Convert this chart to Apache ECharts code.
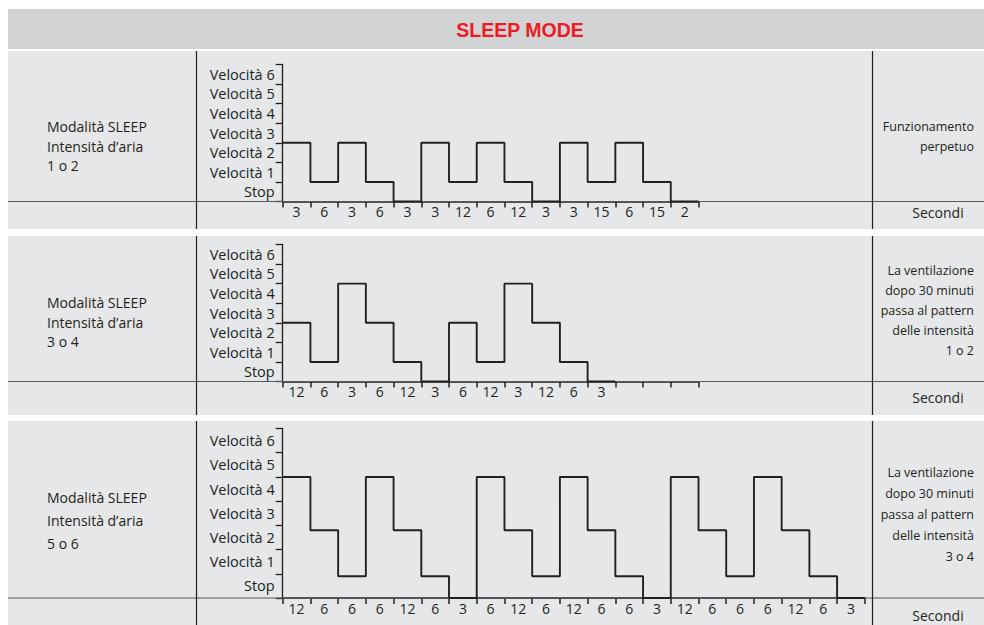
<!DOCTYPE html>
<html>
<head>
<meta charset="utf-8">
<script src="https://cdn.jsdelivr.net/npm/echarts@6/dist/echarts.min.js"></script>
<style>
  html, body { margin: 0; padding: 0; background: #fff; }
  #chart { width: 984px; height: 625px; }
</style>
</head>
<body>
<div id="chart"></div>
<script>
// speed levels on the y axis (one band per level)
const levelNames = ["Stop", "Velocità 1", "Velocità 2", "Velocità 3", "Velocità 4", "Velocità 5", "Velocità 6"];

// SLEEP intensity 1 o 2
const secondsLow = ["3", "6", "3", "6", "3", "3", "12", "6", "12", "3", "3", "15", "6", "15", "2"];
const speedLow = [3, 1, 3, 1, 0, 3, 1, 3, 1, 0, 3, 1, 3, 1, 0];

// SLEEP intensity 3 o 4 (last three slots are empty)
const secondsMid = ["12", "6", "3", "6", "12", "3", "6", "12", "3", "12", "6", "3", "", "", ""];
const speedMid = [3, 1, 5, 3, 1, 0, 3, 1, 5, 3, 1, 0];

// SLEEP intensity 5 o 6
const secondsHigh = ["12", "6", "6", "6", "12", "6", "3", "6", "12", "6", "12", "6", "6", "3", "12", "6", "6", "6", "12", "6", "3"];
const speedHigh = [5, 2.8, 0.9, 5, 2.8, 0.9, 0, 5, 2.8, 0.9, 5, 2.8, 0.9, 0, 5, 2.8, 0.9, 5, 2.8, 0.9, 0];

const modeTexts = [
  ["Modalità SLEEP", "Intensità d’aria", "1 o 2"],
  ["Modalità SLEEP", "Intensità d’aria", "3 o 4"],
  ["Modalità SLEEP", "Intensità d’aria", "5 o 6"],
];
const noteTexts = [
  ["Funzionamento", "perpetuo"],
  ["La ventilazione", "dopo 30 minuti", "passa al pattern", "delle intensità", "1 o 2"],
  ["La ventilazione", "dopo 30 minuti", "passa al pattern", "delle intensità", "3 o 4"],
];
const unitText = "Secondi";
const titleText = "SLEEP MODE";

(() => {
  const INK = "#231f20";
  const RULE = "#58595b";
  const FONT = '"Open Sans", "Noto Sans", sans-serif';
  const SLOT = 27.72;
  const AXIS_X = 282.7;

  // layout of the three table rows
  const rows = [
    { seconds: secondsLow, speed: speedLow, panelTop: 51, panelBottom: 229, gridTop: 64.5, gridH: 137, modeY: 146, modeLH: 19.5, noteY: 136, noteLH: 20, unitY: 212 },
    { seconds: secondsMid, speed: speedMid, panelTop: 236, panelBottom: 415, gridTop: 244.5, gridH: 137, modeY: 322, modeLH: 19.5, noteY: 310, noteLH: 20, unitY: 397 },
    { seconds: secondsHigh, speed: speedHigh, panelTop: 421, panelBottom: 625, gridTop: 428.5, gridH: 169.5, modeY: 520, modeLH: 23, noteY: 514, noteLH: 21, unitY: 615 },
  ];

  const grid = [], xAxis = [], yAxis = [], series = [];
  const graphic = [
    { type: "rect", z: -10, shape: { x: 8, y: 9, width: 976, height: 40 }, style: { fill: "#d1d3d4" } },
    { type: "text", z: 5, style: { text: titleText, x: 520, y: 30, align: "center", verticalAlign: "middle", font: 'bold 19.5px "Liberation Sans", Arial, sans-serif', fill: "#ed1c24" } },
  ];

  rows.forEach((r, g) => {
    const axisY = r.gridTop + r.gridH;
    grid.push({ left: AXIS_X, top: r.gridTop, width: SLOT * r.seconds.length, height: r.gridH, containLabel: false, outerBoundsMode: "none" });

    xAxis.push({
      type: "category", gridIndex: g, position: "bottom", data: r.seconds, boundaryGap: true,
      axisLine: { show: true, onZero: false, lineStyle: { color: INK, width: 1.6 } },
      axisTick: { show: true, inside: false, length: 6, interval: 0, lineStyle: { color: INK, width: 1.5 } },
      axisLabel: { interval: 0, margin: 3, color: INK, fontFamily: FONT, fontSize: 14 },
      splitLine: { show: false },
    });
    xAxis.push({ type: "value", gridIndex: g, position: "bottom", min: 0, max: r.seconds.length, show: false });

    yAxis.push({
      type: "value", gridIndex: g, position: "left", min: 0, max: 7, interval: 1,
      axisLine: { show: true, onZero: false, lineStyle: { color: INK, width: 1.3 } },
      axisTick: { show: true, inside: false, length: 7, lineStyle: { color: INK, width: 1.3 } },
      axisLabel: { show: false },
      splitLine: { show: false },
    });
    yAxis.push({
      type: "category", gridIndex: g, position: "left", data: levelNames, boundaryGap: true,
      axisLine: { show: false }, axisTick: { show: false },
      axisLabel: { interval: 0, margin: 8, color: INK, fontFamily: FONT, fontSize: 14.5 },
      splitLine: { show: false },
    });

    const pts = r.speed.map((v, i) => [i, v]);
    pts.push([r.speed.length, r.speed[r.speed.length - 1]]);
    series.push({
      type: "line", xAxisIndex: 2 * g + 1, yAxisIndex: 2 * g, step: "end", data: pts,
      symbol: "none", silent: true, z: 3,
      lineStyle: { color: INK, width: 1.9 },
    });

    // table cells around the chart
    graphic.push(
      { type: "rect", z: -10, shape: { x: 8, y: r.panelTop, width: 976, height: r.panelBottom - r.panelTop }, style: { fill: "#e6e7e8" } },
      { type: "line", z: 1, shape: { x1: 8, y1: axisY, x2: 984, y2: axisY }, style: { stroke: RULE, lineWidth: 1 } },
      { type: "line", z: 1, shape: { x1: 196.5, y1: r.panelTop, x2: 196.5, y2: r.panelBottom }, style: { stroke: INK, lineWidth: 1.2 } },
      { type: "line", z: 1, shape: { x1: 872.5, y1: r.panelTop, x2: 872.5, y2: r.panelBottom }, style: { stroke: INK, lineWidth: 1.2 } },
      { type: "text", z: 5, style: { text: modeTexts[g].join("\n"), x: 47, y: r.modeY, align: "left", verticalAlign: "middle", lineHeight: r.modeLH, font: "14px " + FONT, fill: INK } },
      { type: "text", z: 5, style: { text: noteTexts[g].join("\n"), x: 974, y: r.noteY, align: "right", verticalAlign: "middle", lineHeight: r.noteLH, font: "12.5px " + FONT, fill: INK } },
      { type: "text", z: 5, style: { text: unitText, x: 938, y: r.unitY, align: "center", verticalAlign: "middle", font: "14px " + FONT, fill: INK } }
    );
  });

  const chart = echarts.init(document.getElementById("chart"), null, { renderer: "svg" });
  chart.setOption({
    animation: false,
    backgroundColor: "#ffffff",
    grid, xAxis, yAxis, series, graphic,
  });
})();
</script>
</body>
</html>
